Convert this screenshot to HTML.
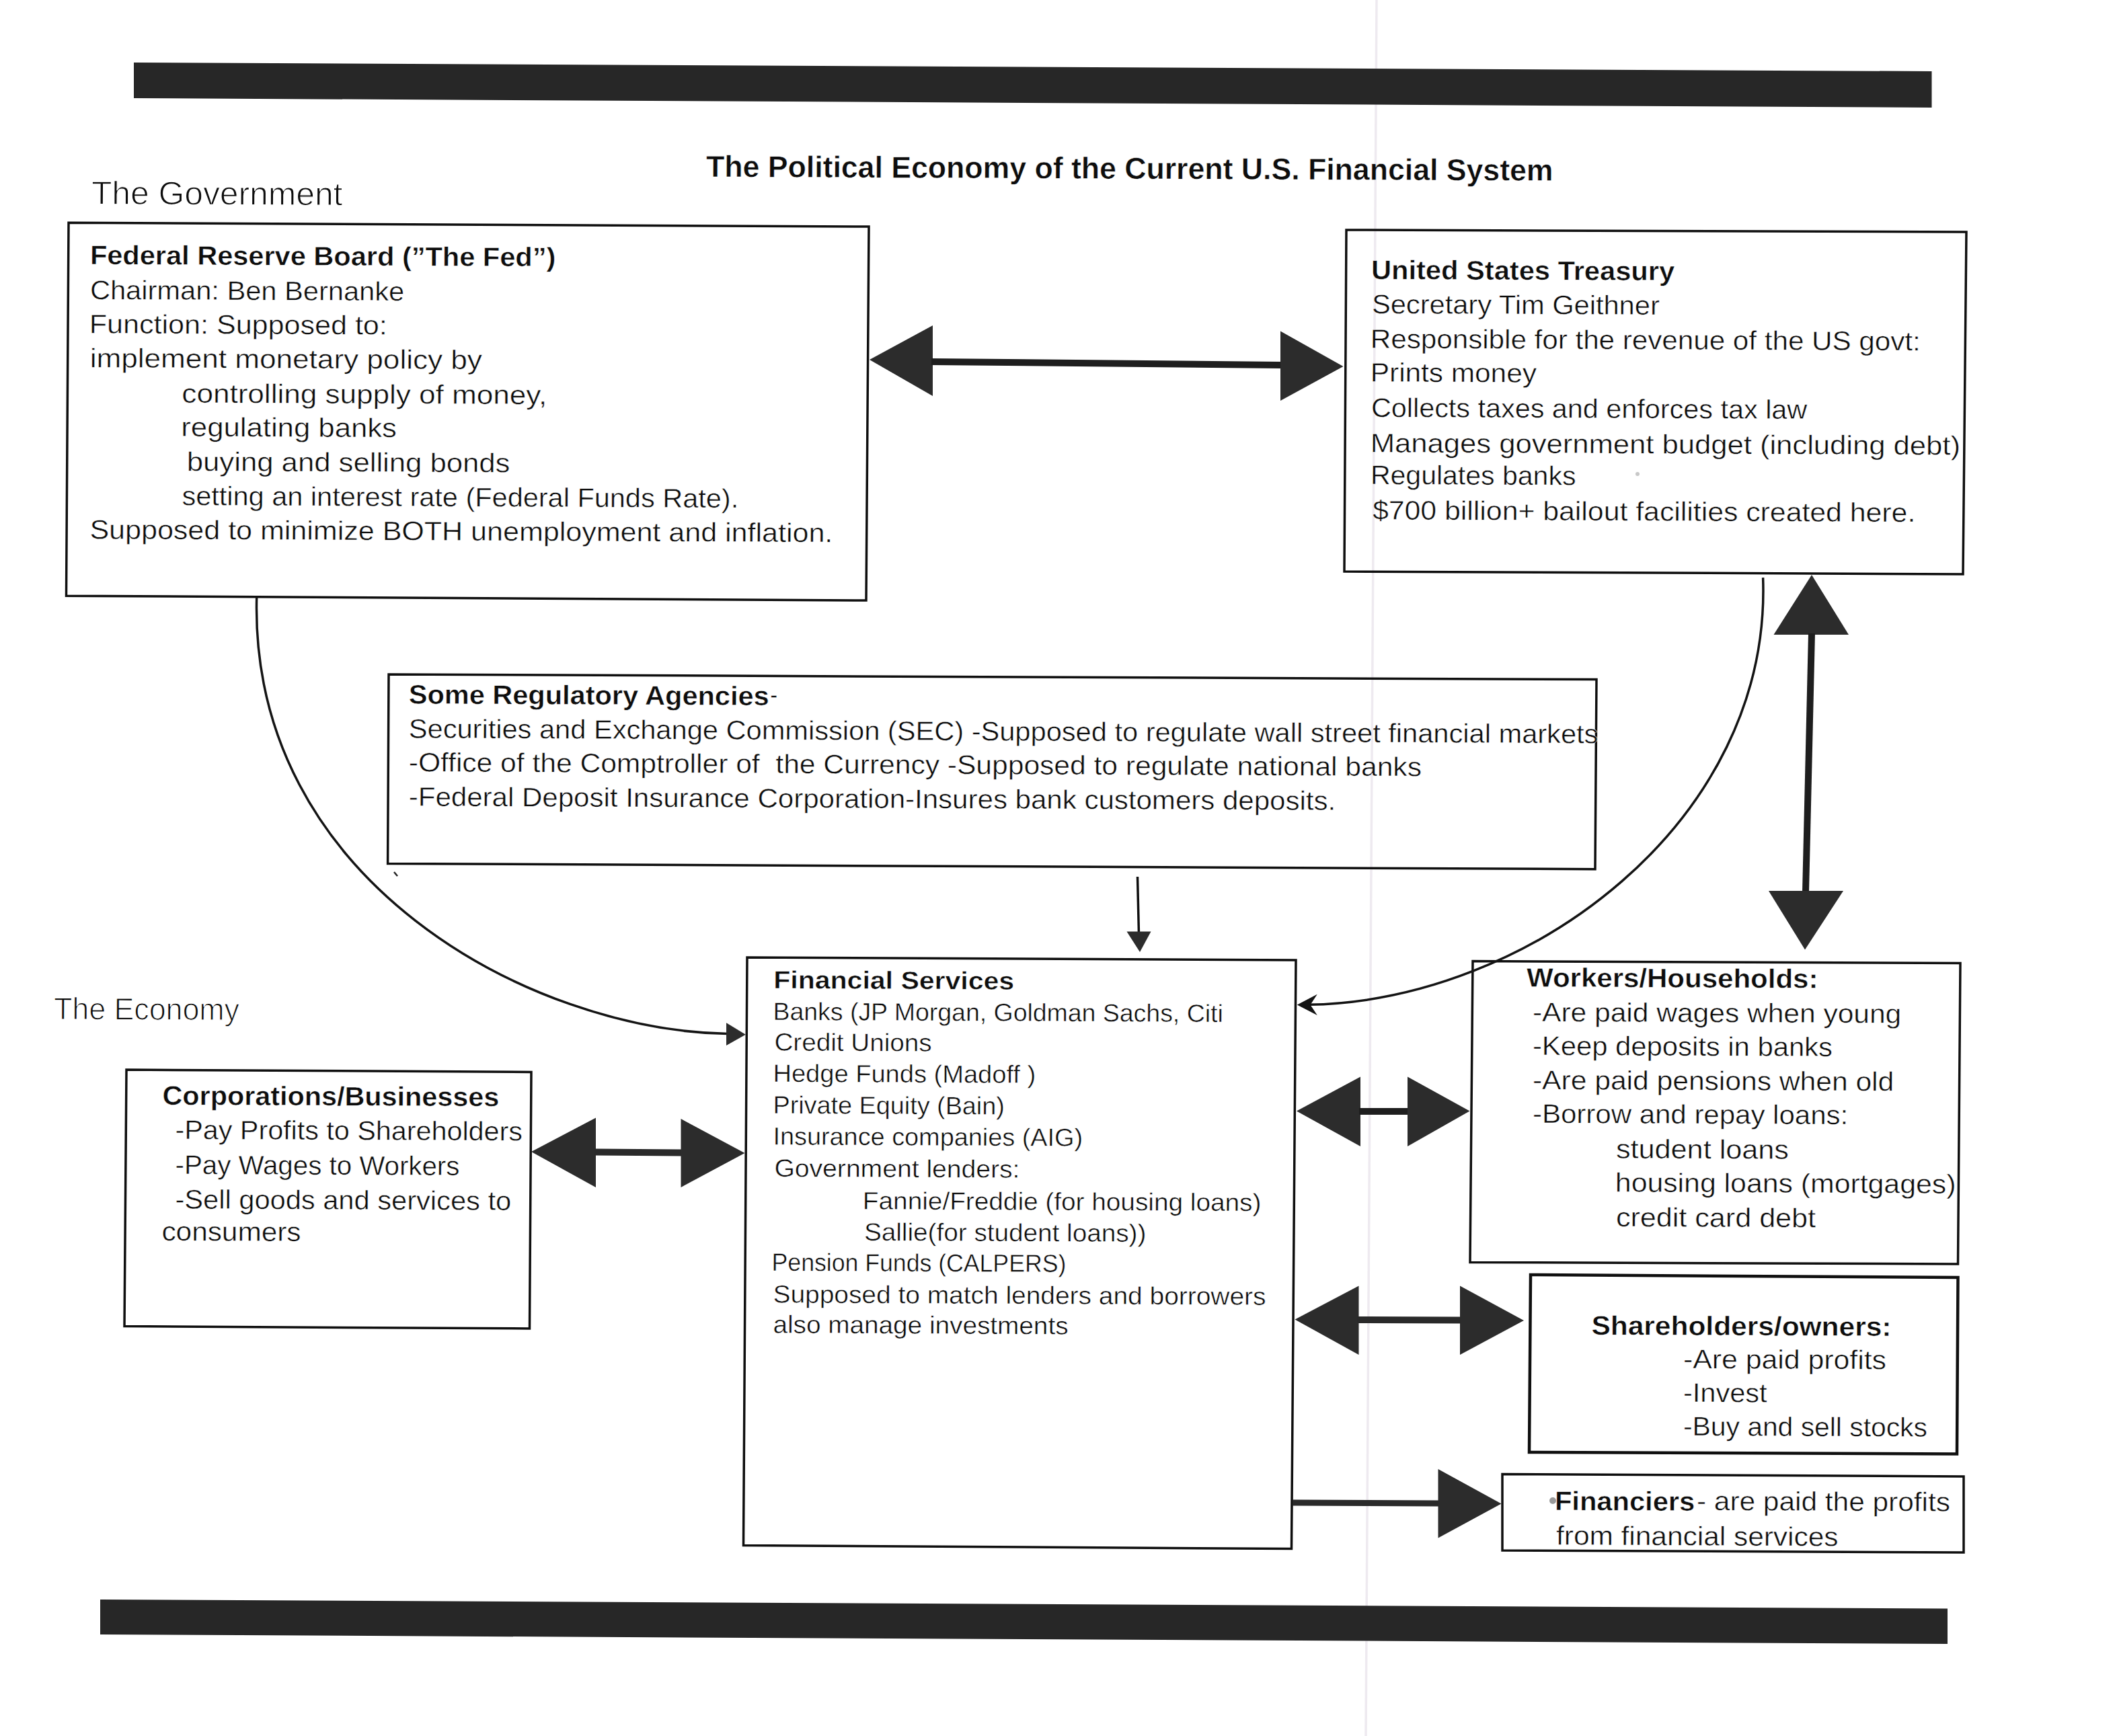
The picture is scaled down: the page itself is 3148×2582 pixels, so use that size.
<!DOCTYPE html>
<html><head><meta charset="utf-8"><style>
html,body{margin:0;padding:0;background:#fff;}
body{width:3148px;height:2582px;overflow:hidden;position:relative;}
svg{position:absolute;left:0;top:0;}
text{font-family:"Liberation Sans",sans-serif;fill:#0d0d0d;stroke:#fff;stroke-width:0.5px;}
</style></head><body>
<svg width="3148" height="2582" viewBox="0 0 3148 2582">
<line x1="2047" y1="0" x2="2031" y2="2582" stroke="#eeeaf0" stroke-width="3.5"/>
<polygon points="199.0,93.0 2872.5,106.0 2872.5,160.0 199.0,146.0" fill="#272727"/>
<polygon points="149.0,2379.0 2896.0,2392.5 2896.0,2445.0 149.0,2431.0" fill="#272727"/>
<polygon points="102.0,331.2 1292.0,337.0 1288.0,893.0 98.5,886.2" fill="none" stroke="#0f0f0f" stroke-width="3.5" stroke-linejoin="miter"/>
<polygon points="2002.0,342.0 2924.0,345.0 2919.0,854.0 1999.0,850.0" fill="none" stroke="#0f0f0f" stroke-width="3.5" stroke-linejoin="miter"/>
<polygon points="578.0,1003.0 2374.0,1010.6 2372.0,1292.7 576.6,1284.5" fill="none" stroke="#0f0f0f" stroke-width="3.5" stroke-linejoin="miter"/>
<polygon points="1111.0,1424.0 1927.0,1428.0 1920.5,2303.5 1105.5,2298.5" fill="none" stroke="#0f0f0f" stroke-width="3.5" stroke-linejoin="miter"/>
<polygon points="2190.0,1429.5 2915.0,1432.5 2911.5,1880.0 2186.0,1877.5" fill="none" stroke="#0f0f0f" stroke-width="3.5" stroke-linejoin="miter"/>
<polygon points="2276.0,1896.0 2911.5,1900.0 2910.0,2162.5 2274.0,2160.0" fill="none" stroke="#0f0f0f" stroke-width="4.5" stroke-linejoin="miter"/>
<polygon points="2234.0,2192.5 2920.0,2196.0 2920.0,2309.0 2234.0,2306.0" fill="none" stroke="#0f0f0f" stroke-width="3.5" stroke-linejoin="miter"/>
<polygon points="188.0,1591.0 790.0,1594.5 787.5,1976.0 185.0,1972.5" fill="none" stroke="#0f0f0f" stroke-width="3.5" stroke-linejoin="miter"/>
<polygon points="1293.0,535.0 1387.0,484.0 1387.0,589.0" fill="#2c2c2c"/>
<line x1="1385" y1="538" x2="1906" y2="543" stroke="#1e1e1e" stroke-width="10"/>
<polygon points="1997.5,545.0 1904.0,492.5 1904.0,596.0" fill="#2c2c2c"/>
<polygon points="2694.0,855.0 2637.5,944.0 2749.0,944.0" fill="#2c2c2c"/>
<line x1="2694" y1="942" x2="2685" y2="1327" stroke="#1e1e1e" stroke-width="10"/>
<polygon points="2684.0,1412.5 2630.0,1325.0 2741.0,1325.0" fill="#2c2c2c"/>
<line x1="1691.5" y1="1304" x2="1693.5" y2="1390" stroke="#0f0f0f" stroke-width="3.5"/>
<polygon points="1695.0,1416.0 1675.5,1385.5 1711.5,1385.5" fill="#2c2c2c"/>
<polygon points="790.0,1713.0 886.0,1662.5 886.0,1766.0" fill="#2c2c2c"/>
<line x1="884" y1="1713.5" x2="1014" y2="1714.5" stroke="#2a2a2a" stroke-width="10"/>
<polygon points="1107.5,1715.0 1012.5,1664.0 1012.5,1766.0" fill="#2c2c2c"/>
<polygon points="1928.0,1652.5 2023.0,1601.5 2023.0,1705.0" fill="#2c2c2c"/>
<line x1="2021" y1="1653" x2="2095" y2="1653" stroke="#1e1e1e" stroke-width="10"/>
<polygon points="2185.5,1652.5 2093.0,1601.5 2093.0,1705.0" fill="#2c2c2c"/>
<polygon points="1925.5,1962.5 2020.5,1912.5 2020.5,2015.0" fill="#2c2c2c"/>
<line x1="2018" y1="1963" x2="2173" y2="1963.5" stroke="#2a2a2a" stroke-width="10"/>
<polygon points="2266.0,1964.0 2171.0,1912.5 2171.0,2015.0" fill="#2c2c2c"/>
<line x1="1922" y1="2235" x2="2140" y2="2236" stroke="#2a2a2a" stroke-width="9"/>
<polygon points="2232.5,2236.5 2138.5,2185.0 2138.5,2287.5" fill="#2c2c2c"/>
<path d="M381.7,887.8 C370.6,1311.4 789.7,1532.4 1082,1537.6" fill="none" stroke="#141414" stroke-width="3.5"/>
<polygon points="1108.8,1538.8 1080.0,1521.2 1080.0,1555.0" fill="#2c2c2c"/>
<path d="M2621.6,859.1 C2634.8,1223.0 2272.8,1489.0 1946,1494.3" fill="none" stroke="#141414" stroke-width="3.5"/>
<polygon points="1928.8,1494.5 1958.8,1478.8 1948.5,1494.5 1958.8,1510.0" fill="#141414"/>
<circle cx="2309" cy="2232" r="5" fill="#9a9a9a"/>
<line x1="586" y1="1297" x2="591" y2="1303" stroke="#222" stroke-width="2.5"/>
<circle cx="2435" cy="705" r="3" fill="#c8c8c8"/>
<text x="1050.00" y="263.00" font-size="45" font-weight="bold" textLength="1259.50" lengthAdjust="spacingAndGlyphs" transform="rotate(0.26 1050.00 263.00)" xml:space="preserve">The Political Economy of the Current U.S. Financial System</text>
<text style="stroke-width:1.2px" x="135.97" y="303.50" font-size="48.5" font-weight="normal" textLength="373.49" lengthAdjust="spacingAndGlyphs" transform="rotate(0.26 135.97 303.50)" xml:space="preserve">The Government</text>
<text style="stroke-width:1.2px" x="80.03" y="1516.00" font-size="46" font-weight="normal" textLength="275.97" lengthAdjust="spacingAndGlyphs" transform="rotate(0.26 80.03 1516.00)" xml:space="preserve">The Economy</text>
<text x="133.91" y="393.00" font-size="39.8" font-weight="bold" textLength="692.39" lengthAdjust="spacingAndGlyphs" transform="rotate(0.26 133.91 393.00)" xml:space="preserve">Federal Reserve Board (”The Fed”)</text>
<text x="133.91" y="445.00" font-size="39.8" font-weight="normal" textLength="467.28" lengthAdjust="spacingAndGlyphs" transform="rotate(0.26 133.91 445.00)" xml:space="preserve">Chairman: Ben Bernanke</text>
<text x="132.75" y="495.50" font-size="39.8" font-weight="normal" textLength="443.06" lengthAdjust="spacingAndGlyphs" transform="rotate(0.26 132.75 495.50)" xml:space="preserve">Function: Supposed to:</text>
<text x="133.78" y="546.25" font-size="39.8" font-weight="normal" textLength="583.10" lengthAdjust="spacingAndGlyphs" transform="rotate(0.26 133.78 546.25)" xml:space="preserve">implement monetary policy by</text>
<text x="270.39" y="598.75" font-size="39.8" font-weight="normal" textLength="542.99" lengthAdjust="spacingAndGlyphs" transform="rotate(0.26 270.39 598.75)" xml:space="preserve">controlling supply of money,</text>
<text x="269.30" y="648.75" font-size="39.8" font-weight="normal" textLength="320.68" lengthAdjust="spacingAndGlyphs" transform="rotate(0.26 269.30 648.75)" xml:space="preserve">regulating banks</text>
<text x="277.81" y="700.25" font-size="39.8" font-weight="normal" textLength="480.68" lengthAdjust="spacingAndGlyphs" transform="rotate(0.26 277.81 700.25)" xml:space="preserve">buying and selling bonds</text>
<text x="270.46" y="751.25" font-size="39.8" font-weight="normal" textLength="827.73" lengthAdjust="spacingAndGlyphs" transform="rotate(0.26 270.46 751.25)" xml:space="preserve">setting an interest rate (Federal Funds Rate).</text>
<text x="133.42" y="801.25" font-size="39.8" font-weight="normal" textLength="1104.89" lengthAdjust="spacingAndGlyphs" transform="rotate(0.26 133.42 801.25)" xml:space="preserve">Supposed to minimize BOTH unemployment and inflation.</text>
<text x="2038.91" y="415.00" font-size="39.8" font-weight="bold" textLength="451.23" lengthAdjust="spacingAndGlyphs" transform="rotate(0.26 2038.91 415.00)" xml:space="preserve">United States Treasury</text>
<text x="2039.96" y="466.00" font-size="39.8" font-weight="normal" textLength="427.81" lengthAdjust="spacingAndGlyphs" transform="rotate(0.26 2039.96 466.00)" xml:space="preserve">Secretary Tim Geithner</text>
<text x="2037.82" y="517.50" font-size="39.8" font-weight="normal" textLength="817.92" lengthAdjust="spacingAndGlyphs" transform="rotate(0.26 2037.82 517.50)" xml:space="preserve">Responsible for the revenue of the US govt:</text>
<text x="2037.81" y="567.50" font-size="39.8" font-weight="normal" textLength="247.08" lengthAdjust="spacingAndGlyphs" transform="rotate(0.26 2037.81 567.50)" xml:space="preserve">Prints money</text>
<text x="2038.92" y="620.00" font-size="39.8" font-weight="normal" textLength="648.31" lengthAdjust="spacingAndGlyphs" transform="rotate(0.26 2038.92 620.00)" xml:space="preserve">Collects taxes and enforces tax law</text>
<text x="2037.71" y="672.50" font-size="39.8" font-weight="normal" textLength="877.25" lengthAdjust="spacingAndGlyphs" transform="rotate(0.26 2037.71 672.50)" xml:space="preserve">Manages government budget (including debt)</text>
<text x="2037.91" y="720.00" font-size="39.8" font-weight="normal" textLength="305.52" lengthAdjust="spacingAndGlyphs" transform="rotate(0.26 2037.91 720.00)" xml:space="preserve">Regulates banks</text>
<text x="2041.00" y="772.50" font-size="39.8" font-weight="normal" textLength="807.29" lengthAdjust="spacingAndGlyphs" transform="rotate(0.26 2041.00 772.50)" xml:space="preserve">$700 billion+ bailout facilities created here.</text>
<text x="607.76" y="1046.50" font-size="39.8" font-weight="bold" textLength="535.92" lengthAdjust="spacingAndGlyphs" transform="rotate(0.26 607.76 1046.50)" xml:space="preserve">Some Regulatory Agencies</text>
<text x="1145.18" y="1046.50" font-size="39.8" font-weight="normal" textLength="10.84" lengthAdjust="spacingAndGlyphs" transform="rotate(0.26 1145.18 1046.50)" xml:space="preserve">-</text>
<text x="607.75" y="1097.40" font-size="39.8" font-weight="normal" textLength="1768.68" lengthAdjust="spacingAndGlyphs" transform="rotate(0.26 607.75 1097.40)" xml:space="preserve">Securities and Exchange Commission (SEC) -Supposed to regulate wall street financial markets</text>
<text x="607.73" y="1147.40" font-size="39.8" font-weight="normal" textLength="1506.23" lengthAdjust="spacingAndGlyphs" transform="rotate(0.26 607.73 1147.40)" xml:space="preserve">-Office of the Comptroller of  the Currency -Supposed to regulate national banks</text>
<text x="607.74" y="1198.50" font-size="39.8" font-weight="normal" textLength="1378.48" lengthAdjust="spacingAndGlyphs" transform="rotate(0.26 607.74 1198.50)" xml:space="preserve">-Federal Deposit Insurance Corporation-Insures bank customers deposits.</text>
<text x="1150.28" y="1470.00" font-size="37.0" font-weight="bold" textLength="357.86" lengthAdjust="spacingAndGlyphs" transform="rotate(0.26 1150.28 1470.00)" xml:space="preserve">Financial Services</text>
<text x="1149.47" y="1517.00" font-size="37.0" font-weight="normal" textLength="669.28" lengthAdjust="spacingAndGlyphs" transform="rotate(0.26 1149.47 1517.00)" xml:space="preserve">Banks (JP Morgan, Goldman Sachs, Citi</text>
<text x="1151.46" y="1562.50" font-size="37.0" font-weight="normal" textLength="234.07" lengthAdjust="spacingAndGlyphs" transform="rotate(0.26 1151.46 1562.50)" xml:space="preserve">Credit Unions</text>
<text x="1149.41" y="1609.00" font-size="37.0" font-weight="normal" textLength="390.70" lengthAdjust="spacingAndGlyphs" transform="rotate(0.26 1149.41 1609.00)" xml:space="preserve">Hedge Funds (Madoff )</text>
<text x="1149.44" y="1656.00" font-size="37.0" font-weight="normal" textLength="344.41" lengthAdjust="spacingAndGlyphs" transform="rotate(0.26 1149.44 1656.00)" xml:space="preserve">Private Equity (Bain)</text>
<text x="1149.43" y="1702.50" font-size="37.0" font-weight="normal" textLength="460.67" lengthAdjust="spacingAndGlyphs" transform="rotate(0.26 1149.43 1702.50)" xml:space="preserve">Insurance companies (AIG)</text>
<text x="1151.44" y="1750.00" font-size="37.0" font-weight="normal" textLength="365.02" lengthAdjust="spacingAndGlyphs" transform="rotate(0.26 1151.44 1750.00)" xml:space="preserve">Government lenders:</text>
<text x="1282.86" y="1798.50" font-size="37.0" font-weight="normal" textLength="592.53" lengthAdjust="spacingAndGlyphs" transform="rotate(0.26 1282.86 1798.50)" xml:space="preserve">Fannie/Freddie (for housing loans)</text>
<text x="1284.95" y="1845.00" font-size="37.0" font-weight="normal" textLength="419.43" lengthAdjust="spacingAndGlyphs" transform="rotate(0.26 1284.95 1845.00)" xml:space="preserve">Sallie(for student loans))</text>
<text x="1147.61" y="1890.00" font-size="37.0" font-weight="normal" textLength="437.66" lengthAdjust="spacingAndGlyphs" transform="rotate(0.26 1147.61 1890.00)" xml:space="preserve">Pension Funds (CALPERS)</text>
<text x="1149.45" y="1937.50" font-size="37.0" font-weight="normal" textLength="733.08" lengthAdjust="spacingAndGlyphs" transform="rotate(0.26 1149.45 1937.50)" xml:space="preserve">Supposed to match lenders and borrowers</text>
<text x="1149.45" y="1982.50" font-size="37.0" font-weight="normal" textLength="439.07" lengthAdjust="spacingAndGlyphs" transform="rotate(0.26 1149.45 1982.50)" xml:space="preserve">also manage investments</text>
<text x="241.46" y="1643.00" font-size="39.8" font-weight="bold" textLength="500.72" lengthAdjust="spacingAndGlyphs" transform="rotate(0.26 241.46 1643.00)" xml:space="preserve">Corporations/Businesses</text>
<text x="260.46" y="1694.00" font-size="39.8" font-weight="normal" textLength="516.47" lengthAdjust="spacingAndGlyphs" transform="rotate(0.26 260.46 1694.00)" xml:space="preserve">-Pay Profits to Shareholders</text>
<text x="260.49" y="1746.00" font-size="39.8" font-weight="normal" textLength="422.92" lengthAdjust="spacingAndGlyphs" transform="rotate(0.26 260.49 1746.00)" xml:space="preserve">-Pay Wages to Workers</text>
<text x="260.45" y="1797.50" font-size="39.8" font-weight="normal" textLength="499.73" lengthAdjust="spacingAndGlyphs" transform="rotate(0.26 260.45 1797.50)" xml:space="preserve">-Sell goods and services to</text>
<text x="240.44" y="1845.00" font-size="39.8" font-weight="normal" textLength="207.02" lengthAdjust="spacingAndGlyphs" transform="rotate(0.26 240.44 1845.00)" xml:space="preserve">consumers</text>
<text x="2270.00" y="1467.50" font-size="39.8" font-weight="bold" textLength="433.43" lengthAdjust="spacingAndGlyphs" transform="rotate(0.26 2270.00 1467.50)" xml:space="preserve">Workers/Households:</text>
<text x="2278.93" y="1519.00" font-size="39.8" font-weight="normal" textLength="548.35" lengthAdjust="spacingAndGlyphs" transform="rotate(0.26 2278.93 1519.00)" xml:space="preserve">-Are paid wages when young</text>
<text x="2278.95" y="1569.00" font-size="39.8" font-weight="normal" textLength="445.99" lengthAdjust="spacingAndGlyphs" transform="rotate(0.26 2278.95 1569.00)" xml:space="preserve">-Keep deposits in banks</text>
<text x="2278.93" y="1620.00" font-size="39.8" font-weight="normal" textLength="537.35" lengthAdjust="spacingAndGlyphs" transform="rotate(0.26 2278.93 1620.00)" xml:space="preserve">-Are paid pensions when old</text>
<text x="2278.94" y="1670.00" font-size="39.8" font-weight="normal" textLength="469.28" lengthAdjust="spacingAndGlyphs" transform="rotate(0.26 2278.94 1670.00)" xml:space="preserve">-Borrow and repay loans:</text>
<text x="2402.91" y="1722.50" font-size="39.8" font-weight="normal" textLength="257.06" lengthAdjust="spacingAndGlyphs" transform="rotate(0.26 2402.91 1722.50)" xml:space="preserve">student loans</text>
<text x="2401.85" y="1772.50" font-size="39.8" font-weight="normal" textLength="506.57" lengthAdjust="spacingAndGlyphs" transform="rotate(0.26 2401.85 1772.50)" xml:space="preserve">housing loans (mortgages)</text>
<text x="2402.92" y="1824.00" font-size="39.8" font-weight="normal" textLength="297.14" lengthAdjust="spacingAndGlyphs" transform="rotate(0.26 2402.92 1824.00)" xml:space="preserve">credit card debt</text>
<text x="2366.43" y="1985.00" font-size="39.8" font-weight="bold" textLength="446.04" lengthAdjust="spacingAndGlyphs" transform="rotate(0.26 2366.43 1985.00)" xml:space="preserve">Shareholders/owners:</text>
<text x="2502.92" y="2035.00" font-size="39.8" font-weight="normal" textLength="302.04" lengthAdjust="spacingAndGlyphs" transform="rotate(0.26 2502.92 2035.00)" xml:space="preserve">-Are paid profits</text>
<text x="2502.96" y="2085.00" font-size="39.8" font-weight="normal" textLength="124.60" lengthAdjust="spacingAndGlyphs" transform="rotate(0.26 2502.96 2085.00)" xml:space="preserve">-Invest</text>
<text x="2502.97" y="2135.00" font-size="39.8" font-weight="normal" textLength="362.95" lengthAdjust="spacingAndGlyphs" transform="rotate(0.26 2502.97 2135.00)" xml:space="preserve">-Buy and sell stocks</text>
<text x="2311.91" y="2246.00" font-size="39.8" font-weight="bold" textLength="208.28" lengthAdjust="spacingAndGlyphs" transform="rotate(0.26 2311.91 2246.00)" xml:space="preserve">Financiers</text>
<text x="2522.93" y="2246.00" font-size="39.8" font-weight="normal" textLength="377.02" lengthAdjust="spacingAndGlyphs" transform="rotate(0.26 2522.93 2246.00)" xml:space="preserve">- are paid the profits</text>
<text x="2314.00" y="2297.50" font-size="39.8" font-weight="normal" textLength="419.46" lengthAdjust="spacingAndGlyphs" transform="rotate(0.26 2314.00 2297.50)" xml:space="preserve">from financial services</text>
</svg>
</body></html>
